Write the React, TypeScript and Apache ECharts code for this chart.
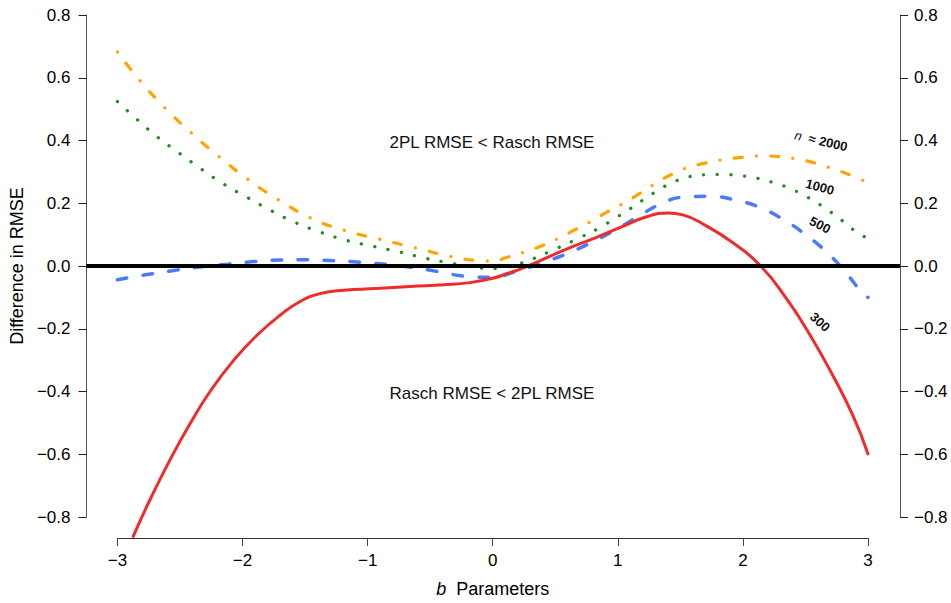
import React, { useEffect, useRef } from "react";
import * as echarts from "echarts";

// x = b parameter, y = difference in RMSE (Rasch - 2PL)
const n2000: number[][] = [
  [-3.0, 0.682], [-2.82, 0.591], [-2.62, 0.504], [-2.4, 0.421], [-2.18, 0.346],
  [-1.95, 0.274], [-1.7, 0.208], [-1.45, 0.152], [-1.17, 0.112], [-0.89, 0.084],
  [-0.6, 0.056], [-0.32, 0.029], [-0.1, 0.017], [0.0, 0.016], [0.11, 0.027],
  [0.25, 0.044], [0.39, 0.064], [0.53, 0.089], [0.66, 0.116], [0.79, 0.143],
  [0.91, 0.171], [1.05, 0.201], [1.17, 0.23], [1.3, 0.263], [1.43, 0.292],
  [1.56, 0.314], [1.7, 0.328], [1.84, 0.339], [1.99, 0.346], [2.14, 0.351],
  [2.28, 0.349], [2.43, 0.341], [2.58, 0.328], [2.71, 0.311], [2.86, 0.29],
  [3.0, 0.265],
];

const n1000: number[][] = [
  [-3.0, 0.524], [-2.84, 0.466], [-2.68, 0.411], [-2.5, 0.358], [-2.33, 0.309],
  [-2.15, 0.261], [-1.96, 0.218], [-1.77, 0.176], [-1.58, 0.139], [-1.38, 0.108],
  [-1.17, 0.082], [-0.96, 0.063], [-0.75, 0.045], [-0.53, 0.024], [-0.32, 0.008],
  [-0.11, -0.006], [0.0, -0.008], [0.1, -0.003], [0.21, 0.007], [0.31, 0.021],
  [0.51, 0.056], [0.7, 0.091], [0.85, 0.121], [0.99, 0.155], [1.1, 0.183],
  [1.2, 0.21], [1.3, 0.236], [1.4, 0.259], [1.5, 0.276], [1.6, 0.287],
  [1.7, 0.291], [1.8, 0.292], [1.9, 0.291], [2.0, 0.287], [2.1, 0.281],
  [2.19, 0.272], [2.3, 0.259], [2.4, 0.243], [2.5, 0.223], [2.59, 0.202],
  [2.68, 0.178], [2.77, 0.152], [2.85, 0.126], [2.94, 0.099], [3.0, 0.09],
];

const n500: number[][] = [
  [-3.0, -0.044], [-2.79, -0.029], [-2.56, -0.015], [-2.34, -0.003], [-2.12, 0.006],
  [-1.91, 0.014], [-1.7, 0.019], [-1.48, 0.02], [-1.27, 0.017], [-1.06, 0.012],
  [-0.85, 0.005], [-0.65, -0.004], [-0.42, -0.019], [-0.21, -0.033], [0.0, -0.036],
  [0.17, -0.019], [0.41, 0.012], [0.62, 0.044], [0.81, 0.079], [0.99, 0.117],
  [1.15, 0.155], [1.36, 0.201], [1.52, 0.219], [1.74, 0.222], [1.95, 0.209],
  [2.14, 0.186], [2.34, 0.144], [2.51, 0.097], [2.67, 0.044], [2.82, -0.02],
  [2.96, -0.089], [3.0, -0.1],
];

const n300: number[][] = [
  [-2.874, -0.862], [-2.74, -0.745], [-2.58, -0.618], [-2.42, -0.503], [-2.26, -0.4],
  [-2.07, -0.3], [-1.88, -0.219], [-1.7, -0.157], [-1.54, -0.113], [-1.38, -0.088],
  [-1.19, -0.077], [-0.93, -0.072], [-0.66, -0.065], [-0.39, -0.06], [-0.18, -0.053],
  [0.0, -0.039], [0.13, -0.022], [0.22, -0.01], [0.38, 0.017], [0.59, 0.054],
  [0.81, 0.088], [1.02, 0.123], [1.23, 0.157], [1.4, 0.169], [1.52, 0.163],
  [1.71, 0.127], [1.92, 0.074], [2.14, 0.001], [2.35, -0.105], [2.54, -0.222],
  [2.72, -0.35], [2.88, -0.477], [3.0, -0.599],
];

// horizontal reference line at 0, spanning the whole plot region (R's extended usr range)
const ZERO_X_MIN = -3.25, ZERO_X_MAX = 3.25;
const zeroLine: number[][] = [[ZERO_X_MIN, 0], [ZERO_X_MAX, 0]];

const X_MIN = -3, X_MAX = 3, X_STEP = 1;
const Y_MIN = -0.8, Y_MAX = 0.8, Y_STEP = 0.2;

const FONT = "Liberation Sans, Arial, Helvetica, sans-serif";

const fmtY = (v: number) => {
  const s = Math.abs(v).toFixed(1);
  return v < -1e-9 ? "\u2212" + s : s;
};
const fmtX = (v: number) => {
  const s = String(Math.abs(Math.round(v)));
  return v < -1e-9 ? "\u2212" + s : s;
};

export default function App() {
  const ref = useRef<HTMLDivElement>(null);

  useEffect(() => {
    if (!ref.current) return;
    const chart = echarts.init(ref.current, undefined, { renderer: "svg" });

    const yAxisBase = {
      type: "value" as const,
      min: Y_MIN,
      max: Y_MAX,
      interval: Y_STEP,
      gridIndex: 0,
      splitLine: { show: false },
      axisLine: { show: true, onZero: false, lineStyle: { color: "#555", width: 1 } },
      axisTick: { show: true, length: 8, inside: false, lineStyle: { color: "#222", width: 1 } },
    };

    const lbl = (txt: string, x: number, y: number, deg: number) => ({
      type: "text",
      x,
      y,
      rotation: (-deg * Math.PI) / 180,
      silent: true,
      style: {
        text: txt,
        x: 0,
        y: 0,
        align: "center",
        verticalAlign: "middle",
        fontFamily: FONT,
        fontSize: 13,
        fontWeight: "bold",
        fill: "#111",
        rich: {
          i: { fontStyle: "italic", fontWeight: "normal", fontSize: 13, fontFamily: FONT, fill: "#111" },
          b: { fontWeight: "bold", fontSize: 13, fontFamily: FONT, fill: "#111" },
        },
      },
    });

    const curve = (name: string, data: number[][], lineStyle: any, z: number) => ({
      name,
      type: "line",
      xAxisIndex: 0,
      yAxisIndex: 0,
      data,
      smooth: 0.5,
      symbol: "none",
      clip: false,
      lineStyle,
      z,
    });

    chart.setOption({
      animation: false,
      backgroundColor: "#ffffff",
      grid: [
        { left: 117, right: 83, top: 15, bottom: 86, containLabel: false },
        { left: 86, right: 51, top: 15, bottom: 86, containLabel: false },
      ],
      xAxis: [
        {
          type: "value",
          gridIndex: 0,
          min: X_MIN,
          max: X_MAX,
          interval: X_STEP,
          offset: 21,
          splitLine: { show: false },
          axisLine: { show: true, onZero: false, lineStyle: { color: "#333", width: 1 } },
          axisTick: { show: true, length: 8, lineStyle: { color: "#444", width: 1 } },
          axisLabel: { margin: 14, fontSize: 17, fontFamily: FONT, color: "#000", formatter: fmtX },
          name: "{i|b}  Parameters",
          nameLocation: "middle",
          nameGap: 42,
          nameTextStyle: {
            fontSize: 18,
            fontFamily: FONT,
            color: "#000",
            rich: { i: { fontStyle: "italic", fontSize: 18, fontFamily: FONT, color: "#000" } },
          },
        },
        {
          type: "value",
          gridIndex: 1,
          min: ZERO_X_MIN,
          max: ZERO_X_MAX,
          show: false,
        },
      ],
      yAxis: [
        {
          ...yAxisBase,
          position: "left",
          offset: 31,
          axisLabel: { margin: 16, fontSize: 17, fontFamily: FONT, color: "#000", formatter: fmtY },
          name: "Difference in RMSE",
          nameLocation: "middle",
          nameGap: 56,
          nameTextStyle: { fontSize: 18, fontFamily: FONT, color: "#000" },
        },
        {
          ...yAxisBase,
          position: "right",
          offset: 32,
          axisLabel: { margin: 14, fontSize: 17, fontFamily: FONT, color: "#000", formatter: fmtY },
        },
        {
          type: "value",
          gridIndex: 1,
          min: Y_MIN,
          max: Y_MAX,
          show: false,
        },
      ],
      series: [
        curve("n = 2000", n2000, { color: "#FFA500", width: 3.2, type: [0.1, 14, 8, 14.5], cap: "round" }, 3),
        curve("n = 1000", n1000, { color: "#228B22", width: 3.3, type: [0.1, 13.5], cap: "round" }, 3),
        curve("n = 500", n500, { color: "#4A7BFA", width: 3.5, type: [9.5, 16.5], cap: "round" }, 3),
        curve("n = 300", n300, { color: "#EE2C2C", width: 3, type: "solid", cap: "round" }, 4),
        {
          name: "zero",
          type: "line",
          xAxisIndex: 1,
          yAxisIndex: 2,
          data: zeroLine,
          symbol: "none",
          clip: false,
          silent: true,
          lineStyle: { color: "#000", width: 4 },
          z: 5,
        },
      ],
      graphic: [
        {
          type: "text",
          x: 492,
          y: 142,
          silent: true,
          style: {
            text: "2PL RMSE < Rasch RMSE",
            x: 0, y: 0,
            align: "center",
            verticalAlign: "middle",
            fontFamily: FONT,
            fontSize: 17,
            fill: "#111",
          },
        },
        {
          type: "text",
          x: 492,
          y: 393,
          silent: true,
          style: {
            text: "Rasch RMSE < 2PL RMSE",
            x: 0, y: 0,
            align: "center",
            verticalAlign: "middle",
            fontFamily: FONT,
            fontSize: 17,
            fill: "#111",
          },
        },
        lbl("{i|n}  {b|\u2248 2000}", 821, 141, 13),
        lbl("1000", 820, 187, 15),
        lbl("500", 820, 225, 27),
        lbl("300", 820, 322, 42),
      ],
    });

    return () => chart.dispose();
  }, []);

  return (
    <div
      ref={ref}
      style={{ position: "fixed", left: 0, top: 0, width: 951, height: 603, background: "#fff" }}
    />
  );
}
